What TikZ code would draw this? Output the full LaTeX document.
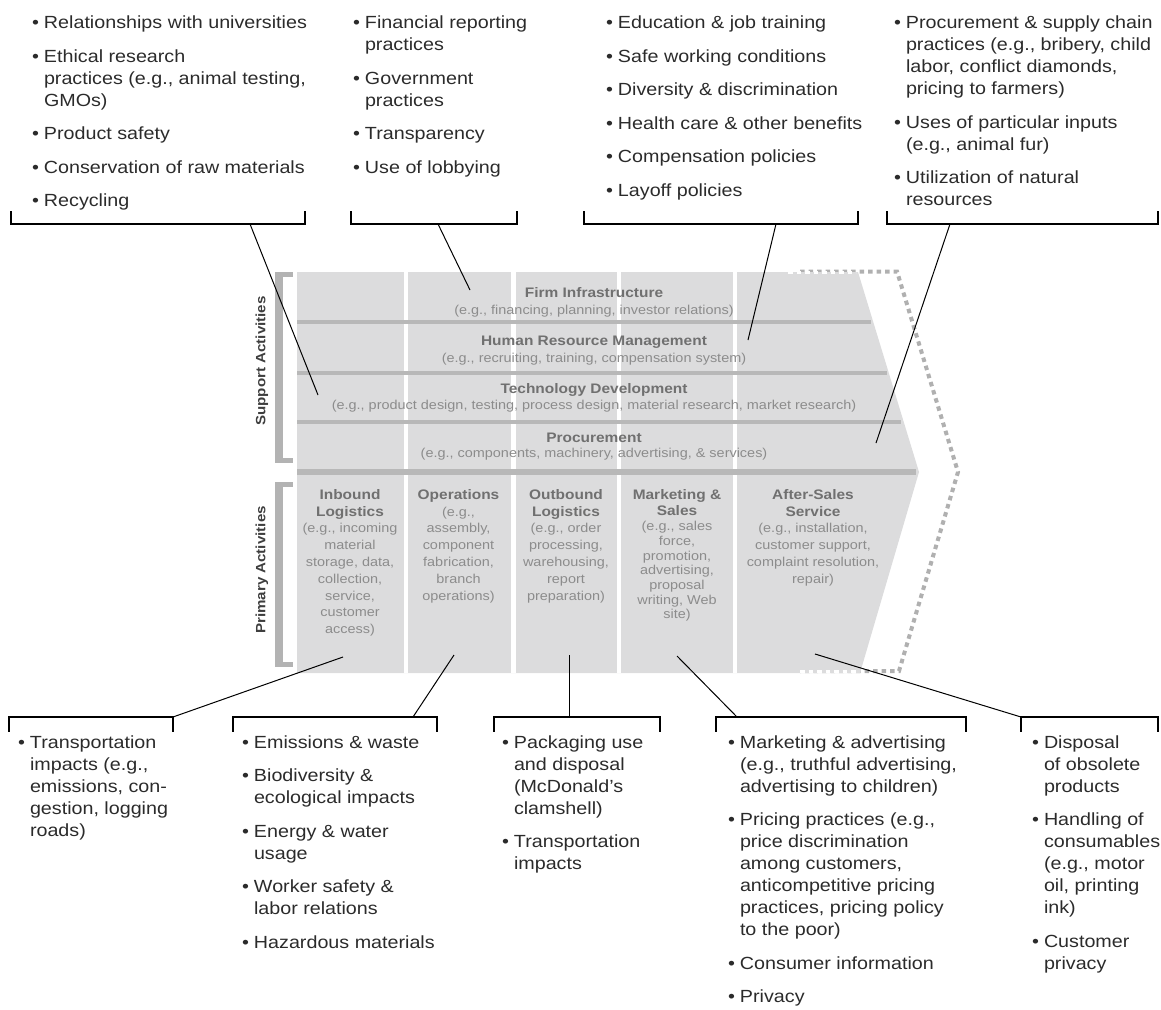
\documentclass[tikz,border=0pt]{standalone}
\usepackage{fontspec}
\setmainfont{Liberation Sans}[FakeStretch=1.12]
\definecolor{listtxt}{HTML}{2B2B2B}
\definecolor{chevgray}{HTML}{DCDCDD}
\definecolor{sepgray}{HTML}{B8B8B8}
\definecolor{brgray}{HTML}{B3B3B3}
\definecolor{dotgray}{HTML}{B0B0B0}
\definecolor{ttlgray}{HTML}{707070}
\definecolor{subgray}{HTML}{8C8C8C}
\definecolor{sidegray}{HTML}{3E3E3E}
\newcommand\bu{\makebox[12pt][l]{\textbullet}}
\newcommand\ii{\hspace*{12pt}}
\newcommand\tf{\color{ttlgray}\fontsize{13.8}{16.8}\selectfont\bfseries}
\newcommand\topbr[2]{\draw[tickl] (#1,211)--(#1,224.5); \draw[tickl] (#2,211)--(#2,224.5); \draw[brk] (#1-0.55,224)--(#2+0.55,224);}
\newcommand\botbr[2]{\draw[tickl] (#1,716.5)--(#1,732); \draw[tickl] (#2,716.5)--(#2,732); \draw[brk] (#1-0.55,717)--(#2+0.55,717);}
\begin{document}
\begin{tikzpicture}[x=1pt,y=-1pt,
  list/.style={anchor=north west,inner sep=0pt,outer sep=0pt,align=left,text=listtxt,font=\fontsize{17.6}{22}\selectfont},
  brk/.style={line width=2.6pt},
  tickl/.style={line width=1.1pt},
  conn/.style={line width=1pt},
  ttlnode/.style={inner sep=0pt,anchor=base,text=ttlgray,font=\fontsize{13.8}{16.8}\selectfont\bfseries},
  subnode/.style={inner sep=0pt,anchor=base,text=subgray,font=\fontsize{12.9}{16.8}\selectfont},
  colnode/.style={inner sep=0pt,anchor=north,align=center,text=subgray,font=\fontsize{12.9}{16.8}\selectfont},
  sidelab/.style={inner sep=0pt,rotate=90,text=sidegray,font=\fontsize{13.5}{16}\selectfont\bfseries},
]
\useasboundingbox (0,0) rectangle (1161,1009);

% ---- value chain graphic ----
\draw[dotgray,line width=4pt,dash pattern=on 4.5pt off 4pt] (800,271.5) -- (897,271.5) -- (958,472) -- (899,671) -- (800,671);
\fill[chevgray] (297,272) -- (858,272) -- (919,472) -- (860,673) -- (297,673) -- cycle;
\draw[white,line width=2.5pt,dash pattern=on 4.5pt off 4pt] (788,272.5) -- (856,272.5);
\draw[white,line width=2.5pt,dash pattern=on 4.5pt off 4pt] (800,671.5) -- (858,671.5);
\foreach \x in {406,513.5,619,735} \draw[white,line width=4.5pt] (\x,272) -- (\x,673);
\draw[sepgray,line width=3.2pt] (297,322) -- (871,322);
\draw[sepgray,line width=3.2pt] (297,373) -- (887,373);
\draw[sepgray,line width=3.2pt] (297,422) -- (901,422);
\draw[sepgray,line width=5.5pt] (297,472) -- (916,472);

% left brackets
\fill[brgray] (275,272) rectangle (283,463);
\fill[brgray] (275,272) rectangle (293,277);
\fill[brgray] (275,458) rectangle (293,463);
\fill[brgray] (275,482) rectangle (283,667);
\fill[brgray] (275,482) rectangle (293,487);
\fill[brgray] (275,662) rectangle (293,667);
\node[sidelab] (sup) at (262,361) {Support Activities};
\node[sidelab] (pri) at (262,570) {Primary Activities};

% support activities
\node[ttlnode] (fi) at (594,297) {Firm Infrastructure};
\node[subnode] (fis) at (594,314.5) {(e.g., financing, planning, investor relations)};
\node[ttlnode] (hr) at (594,345) {Human Resource Management};
\node[subnode] (hrs) at (594,362.5) {(e.g., recruiting, training, compensation system)};
\node[ttlnode] (td) at (594,393) {Technology Development};
\node[subnode] (tds) at (594,409.5) {(e.g., product design, testing, process design, material research, market research)};
\node[ttlnode] (pr) at (594,442) {Procurement};
\node[subnode] (prs) at (594,457.5) {(e.g., components, machinery, advertising, \& services)};

% primary activities
\node[colnode] (ib) at (350,489) {{\tf Inbound}\\{\tf Logistics}\\(e.g., incoming\\material\\storage, data,\\collection,\\service,\\customer\\access)};
\node[colnode] (op) at (458.5,489) {{\tf Operations}\\(e.g.,\\assembly,\\component\\fabrication,\\branch\\operations)};
\node[colnode] (ob) at (566,489) {{\tf Outbound}\\{\tf Logistics}\\(e.g., order\\processing,\\warehousing,\\report\\preparation)};
\node[colnode,font=\fontsize{12.9}{14.7}\selectfont] (ms) at (677,489) {{\tf Marketing \&}\\[1.8pt]{\tf Sales}\\[0.3pt](e.g., sales\\force,\\promotion,\\advertising,\\proposal\\writing, Web\\site)};
\node[colnode] (as) at (813,489) {{\tf After-Sales}\\{\tf Service}\\(e.g., installation,\\customer support,\\complaint resolution,\\repair)};

% ---- top lists ----
\node[list] (l1) at (32,16) {\bu Relationships with universities\\[11.5pt]
\bu Ethical research\\ \ii practices (e.g., animal testing,\\ \ii GMOs)\\[11.5pt]
\bu Product safety\\[11.5pt]
\bu Conservation of raw materials\\[11.5pt]
\bu Recycling};
\node[list] (l2) at (353,16) {\bu Financial reporting\\ \ii practices\\[11.5pt]
\bu Government\\ \ii practices\\[11.5pt]
\bu Transparency\\[11.5pt]
\bu Use of lobbying};
\node[list] (l3) at (606,16) {\bu Education \& job training\\[11.5pt]
\bu Safe working conditions\\[11.5pt]
\bu Diversity \& discrimination\\[11.5pt]
\bu Health care \& other benefits\\[11.5pt]
\bu Compensation policies\\[11.5pt]
\bu Layoff policies};
\node[list] (l4) at (894,16) {\bu Procurement \& supply chain\\ \ii practices (e.g., bribery, child\\ \ii labor, conflict diamonds,\\ \ii pricing to farmers)\\[11.5pt]
\bu Uses of particular inputs\\ \ii (e.g., animal fur)\\[11.5pt]
\bu Utilization of natural\\ \ii resources};

\topbr{11}{305}
\topbr{351}{517}
\topbr{584}{858}
\topbr{887}{1158}

% ---- bottom lists ----
\node[list] (b1) at (18,735.5) {\bu Transportation\\ \ii impacts (e.g.,\\ \ii emissions, con-\\ \ii gestion, logging\\ \ii roads)};
\node[list] (b2) at (242,735.5) {\bu Emissions \& waste\\[11.5pt]
\bu Biodiversity \&\\ \ii ecological impacts\\[11.5pt]
\bu Energy \& water\\ \ii usage\\[11.5pt]
\bu Worker safety \&\\ \ii labor relations\\[11.5pt]
\bu Hazardous materials};
\node[list] (b3) at (502,735.5) {\bu Packaging use\\ \ii and disposal\\ \ii (McDonald’s\\ \ii clamshell)\\[11.5pt]
\bu Transportation\\ \ii impacts};
\node[list] (b4) at (728,735.5) {\bu Marketing \& advertising\\ \ii (e.g., truthful advertising,\\ \ii advertising to children)\\[11.5pt]
\bu Pricing practices (e.g.,\\ \ii price discrimination\\ \ii among customers,\\ \ii anticompetitive pricing\\ \ii practices, pricing policy\\ \ii to the poor)\\[11.5pt]
\bu Consumer information\\[11.5pt]
\bu Privacy};
\node[list] (b5) at (1032,735.5) {\bu Disposal\\ \ii of obsolete\\ \ii products\\[11.5pt]
\bu Handling of\\ \ii consumables\\ \ii (e.g., motor\\ \ii oil, printing\\ \ii ink)\\[11.5pt]
\bu Customer\\ \ii privacy};

\botbr{9}{173}
\botbr{233}{437}
\botbr{494}{660}
\botbr{716}{966}
\botbr{1021}{1158}

% ---- connectors ----
\coordinate (t1a) at (250,224);  \coordinate (t1b) at (318,395);
\coordinate (t2a) at (438,224);  \coordinate (t2b) at (470,290);
\coordinate (t3a) at (776,224);  \coordinate (t3b) at (748,340);
\coordinate (t4a) at (950,224);  \coordinate (t4b) at (876,443);
\coordinate (u1a) at (173,717);  \coordinate (u1b) at (343,657);
\coordinate (u2a) at (413,717);  \coordinate (u2b) at (454,655);
\coordinate (u3a) at (569,717);  \coordinate (u3b) at (569,655);
\coordinate (u4a) at (737,717);  \coordinate (u4b) at (677,656);
\coordinate (u5a) at (1021,717); \coordinate (u5b) at (815,654);
\foreach \p in {t1,t2,t3,t4,u1,u2,u3,u4,u5} \draw[conn] (\p a) -- (\p b);
\end{tikzpicture}
\end{document}
